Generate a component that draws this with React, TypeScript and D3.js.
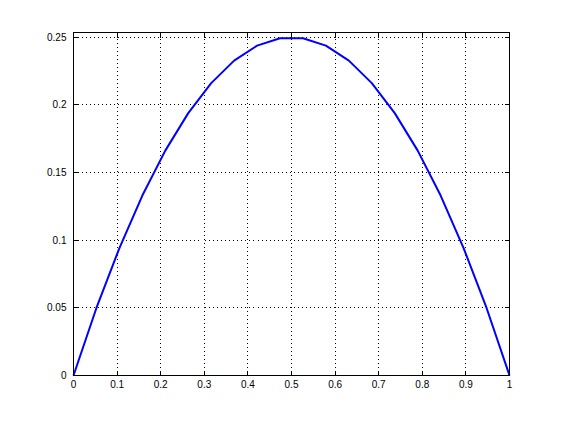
import React from "react";
import * as d3 from "d3";

const xValues = [0, 0.0526, 0.1053, 0.1579, 0.2105, 0.2632, 0.3158, 0.3684, 0.4211, 0.4737, 0.5263, 0.5789, 0.6316, 0.6842, 0.7368, 0.7895, 0.8421, 0.8947, 0.9474, 1];
const yValues = [0, 0.0499, 0.0942, 0.133, 0.1662, 0.1939, 0.2161, 0.2327, 0.2438, 0.2493, 0.2493, 0.2438, 0.2327, 0.2161, 0.1939, 0.1662, 0.133, 0.0942, 0.0499, 0];
const xTicks = [0, 0.1, 0.2, 0.3, 0.4, 0.5, 0.6, 0.7, 0.8, 0.9, 1];
const yTicks = [0, 0.05, 0.1, 0.15, 0.2, 0.25];
const xTickLabels = ["0", "0.1", "0.2", "0.3", "0.4", "0.5", "0.6", "0.7", "0.8", "0.9", "1"];
const yTickLabels = ["0", "0.05", "0.1", "0.15", "0.2", "0.25"];

const W = 562, H = 421;
const L = 73.5, R = 509.5, T = 32.5, B = 375.5;

export default function App() {
  const x = d3.scaleLinear().domain([0, 1]).range([L, R]);
  const y = d3.scaleLinear().domain([0, 0.2535]).range([B, T]);
  const data = xValues.map((v, i) => [v, yValues[i]] as [number, number]);
  const line = d3.line<[number, number]>().x(d => x(d[0])).y(d => y(d[1]));
  const font = "'Liberation Sans', Arial, Helvetica, sans-serif";
  const rx = (v: number) => Math.round(x(v) - 0.5) + 0.5;
  const ry = (v: number) => Math.round(y(v) - 0.5) + 0.5;
  return (
    <svg width={W} height={H} style={{ position: "absolute", left: 0, top: 0, background: "#fff" }}>
      <rect x={0} y={0} width={W} height={H} fill="#fff" />
      <g stroke="#000" strokeWidth={1} strokeDasharray="1,3" shapeRendering="crispEdges">
        {xTicks.slice(1, -1).map((t, i) => (
          <line key={"gx" + i} x1={rx(t)} x2={rx(t)} y1={B} y2={T} />
        ))}
        {yTicks.slice(1).map((t, i) => (
          <line key={"gy" + i} x1={L} x2={R} y1={ry(t)} y2={ry(t)} />
        ))}
      </g>
      <path d={line(data) || ""} fill="none" stroke="#0000ff" strokeWidth={2} strokeLinejoin="round" />
      <g stroke="#000" strokeWidth={1} shapeRendering="crispEdges">
        <rect x={L} y={T} width={R - L} height={B - T} fill="none" />
        {xTicks.map((t, i) => (
          <g key={"tx" + i}>
            <line x1={rx(t)} x2={rx(t)} y1={B} y2={B - 5} />
            <line x1={rx(t)} x2={rx(t)} y1={T} y2={T + 5} />
          </g>
        ))}
        {yTicks.map((t, i) => (
          <g key={"ty" + i}>
            <line x1={L} x2={L + 5} y1={ry(t)} y2={ry(t)} />
            <line x1={R} x2={R - 5} y1={ry(t)} y2={ry(t)} />
          </g>
        ))}
      </g>
      <g fontFamily={font} fontSize={10} fill="#000">
        {xTicks.map((t, i) => (
          <text key={"lx" + i} x={x(t)} y={B + 12} textAnchor="middle">{xTickLabels[i]}</text>
        ))}
        {yTicks.map((t, i) => (
          <text key={"ly" + i} x={L - 7} y={y(t) + 3.5} textAnchor="end">{yTickLabels[i]}</text>
        ))}
      </g>
    </svg>
  );
}
